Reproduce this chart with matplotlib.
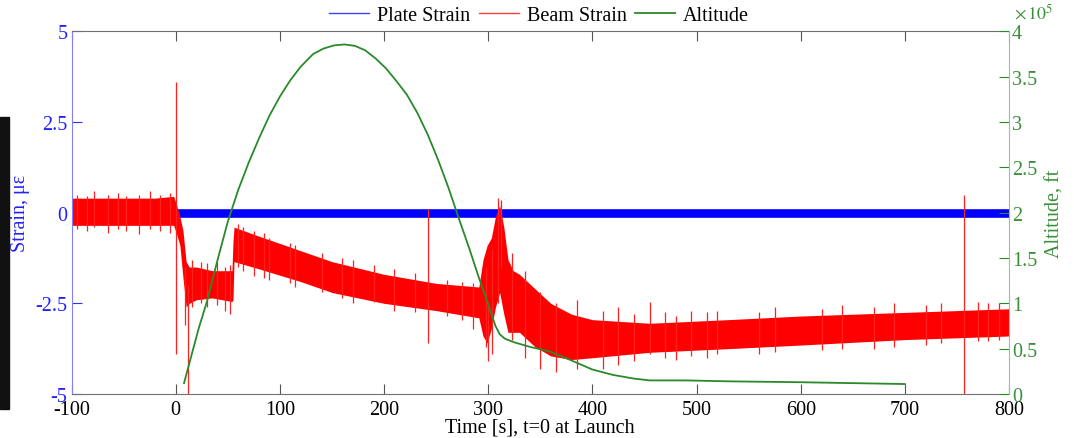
import matplotlib.pyplot as plt
from matplotlib.lines import Line2D
from matplotlib.patches import Rectangle
from matplotlib.ticker import FuncFormatter

plt.rcParams['font.family'] = ['Liberation Serif', 'DejaVu Serif']
plt.rcParams['mathtext.fontset'] = 'stix'
plt.rcParams['font.size'] = 14.5
plt.rcParams['axes.unicode_minus'] = False

# plate strain stays flat at zero
plate_t = [-100, 800]
plate_strain = [0, 0]

# beam strain: envelope of the noisy band (micro-strain)
beam_t = [-100, -60, -20, -2, 1, 4, 7, 10, 13, 20, 35, 54, 55, 56, 80, 120, 150,
          200, 250, 291, 295, 299, 303, 307, 311, 315, 319, 324, 330, 345, 360,
          380, 400, 455, 530, 600, 700, 800]
beam_high = [0.4, 0.4, 0.4, 0.45, 0.2, -0.1, -0.5, -1.35, -1.5, -1.5, -1.6, -1.6,
             -0.8, -0.4, -0.65, -1.05, -1.35, -1.7, -1.95, -2.05, -1.3, -0.9, -0.7,
             -0.1, 0.2, -0.4, -1.3, -1.6, -1.7, -2.1, -2.5, -2.8, -2.95, -3.05,
             -2.95, -2.85, -2.75, -2.65]
beam_low = [-0.35, -0.35, -0.35, -0.35, -0.6, -0.9, -1.8, -2.6, -2.5, -2.4, -2.35,
            -2.45, -2.4, -1.35, -1.55, -1.9, -2.2, -2.5, -2.7, -2.9, -3.4, -3.6,
            -3.2, -2.6, -2.2, -2.8, -3.3, -3.3, -3.3, -3.7, -3.95, -4.05, -4.0,
            -3.85, -3.75, -3.65, -3.5, -3.4]

# isolated spikes and noise excursions in the beam strain
spike_t = [0.5, 9, 12, 242, 757, 298, 300, 304, 309, 312, 323, 335, 350, 365,
           385, 425, 455, 495,
           -95, -85, -78, -65, -55, -48, -35, -25, -15, -5,
           16, 24, 30, 40, 47, 52,
           60, 65, 75, 85, 90, 110, 115, 140, 160, 170, 190, 210, 230, 260, 275, 285,
           410, 440, 470, 480, 510, 520, 560, 575, 620, 640, 670, 690, 720, 735,
           770, 780, 790]
spike_lo = [-3.9, -3.1, -5.0, -3.6, -5.0, -3.7, -4.1, -3.9, -2.5, -1.5, -3.5, -4.0,
            -4.3, -4.4, -4.3, -4.2, -3.9, -3.95,
            -0.45, -0.5, -0.4, -0.55, -0.45, -0.5, -0.6, -0.45, -0.5, -0.55,
            -2.6, -2.5, -2.6, -2.55, -2.7, -2.8,
            -1.5, -1.6, -1.75, -1.8, -1.85, -1.95, -2.05, -2.2, -2.35, -2.5, -2.45,
            -2.7, -2.75, -2.85, -2.95, -3.2,
            -4.3, -4.1, -4.0, -4.05, -4.0, -3.9, -3.9, -3.85, -3.8, -3.75, -3.75,
            -3.7, -3.65, -3.6, -3.55, -3.55, -3.5]
spike_hi = [3.6, -1.5, -2.0, 0.1, 0.5, -1.5, -2.5, -1.0, 0.4, 0.35, -1.1, -1.6,
            -2.2, -2.5, -2.4, -2.6, -2.45, -2.7,
            0.5, 0.45, 0.6, 0.5, 0.55, 0.45, 0.5, 0.6, 0.5, 0.55,
            -1.3, -1.35, -1.4, -1.35, -1.5, -1.45,
            -0.3, -0.4, -0.5, -0.55, -0.7, -0.85, -0.9, -1.1, -1.25, -1.3, -1.45,
            -1.55, -1.65, -1.85, -1.9, -1.95,
            -2.7, -2.8, -2.75, -2.85, -2.75, -2.7, -2.75, -2.6, -2.65, -2.55, -2.6,
            -2.5, -2.55, -2.5, -2.45, -2.5, -2.5]

# altitude (ft)
alt_t = [8, 15, 22, 30, 40, 50, 60, 70, 80, 90, 100, 110, 120, 132, 142, 152, 162,
         172, 182, 192, 202, 212, 222, 232, 242, 252, 262, 272, 282, 290, 296, 302,
         307, 311, 316, 325, 340, 359, 380, 400, 420, 440, 455, 490, 530, 600, 650,
         700]
alt_ft = [12000, 42000, 72000, 102000, 147000, 190000, 225000, 255000, 282000,
          307000, 328000, 346000, 361000, 375000, 381000, 384500, 385500, 384000,
          379000, 370000, 359000, 345000, 330000, 310000, 286000, 258000, 227000,
          193000, 160000, 132000, 112000, 92000, 75000, 66000, 61000, 57000, 52000,
          47000, 37000, 27000, 21000, 17000, 15000, 15000, 14000, 13000, 12000,
          11000]

fig = plt.figure(figsize=(10.74, 4.39), dpi=100)
ax = fig.add_axes([0.0666, 0.1002, 0.8729, 0.8262])
ax2 = ax.twinx()

ax.plot(plate_t, plate_strain, color='#0000ff', lw=6.2, solid_capstyle='butt', zorder=1)
ax.fill_between(beam_t, beam_low, beam_high, color='#ff0000', lw=0, zorder=2)
ax.vlines(spike_t, spike_lo, spike_hi, color='#ff2020', lw=0.9, zorder=2)
ax2.plot(alt_t, alt_ft, color='#2a8a2a', lw=1.3)

ax.set_xlim(-100, 800)
ax.set_ylim(-5, 5)
ax.set_xticks(range(-100, 801, 100))
ax.set_yticks([-5, -2.5, 0, 2.5, 5])
ax.yaxis.set_major_formatter(FuncFormatter(lambda v, p: f'{v:g}'))
ax2.set_ylim(0, 400000)
ax2.set_yticks([i * 50000 for i in range(9)])
ax2.yaxis.set_major_formatter(FuncFormatter(lambda v, p: f'{v / 1e5:g}'))

for s in ['top', 'bottom']:
    ax.spines[s].set_color('#707070')
ax.spines['left'].set_color('#8080ff')
ax.spines['right'].set_visible(False)
for s in ['top', 'bottom', 'left']:
    ax2.spines[s].set_visible(False)
ax2.spines['right'].set_color('#90c890')

ax.tick_params(axis='x', direction='in', length=7, top=True, color='#555555',
               labelcolor='black', pad=4)
ax.tick_params(axis='y', direction='in', length=7, color='#3030ff',
               labelcolor='#2020ff', pad=3)
ax2.tick_params(axis='y', direction='in', length=7, color='#2a8a2a',
                labelcolor='#3a8f3a', pad=2)

ax.set_xlabel('Time [s], t=0 at Launch', labelpad=-1)
ax.set_ylabel('Strain, με', color='#2020ff', labelpad=4)
ax2.set_ylabel('Altitude, ft', color='#3a8f3a', labelpad=6)

fig.text(0.944, 0.955, r'$\times\,10^{5}$', color='#3a8f3a', fontsize=13)

handles = [Line2D([], [], color='#4040ff', lw=1),
           Line2D([], [], color='#ff4040', lw=1),
           Line2D([], [], color='#2a8a2a', lw=1.3)]
fig.legend(handles, ['Plate Strain', 'Beam Strain', 'Altitude'], ncol=3,
           loc='upper center', bbox_to_anchor=(0.502, 1.025), frameon=False,
           handlelength=2.0, handletextpad=0.4, columnspacing=0.4)

# sliver of a dark photo at the left edge
fig.patches.append(Rectangle((0, 0.066), 0.0085, 0.665, transform=fig.transFigure,
                             color='#111111', zorder=0))

fig.savefig('out.png', dpi=100)
